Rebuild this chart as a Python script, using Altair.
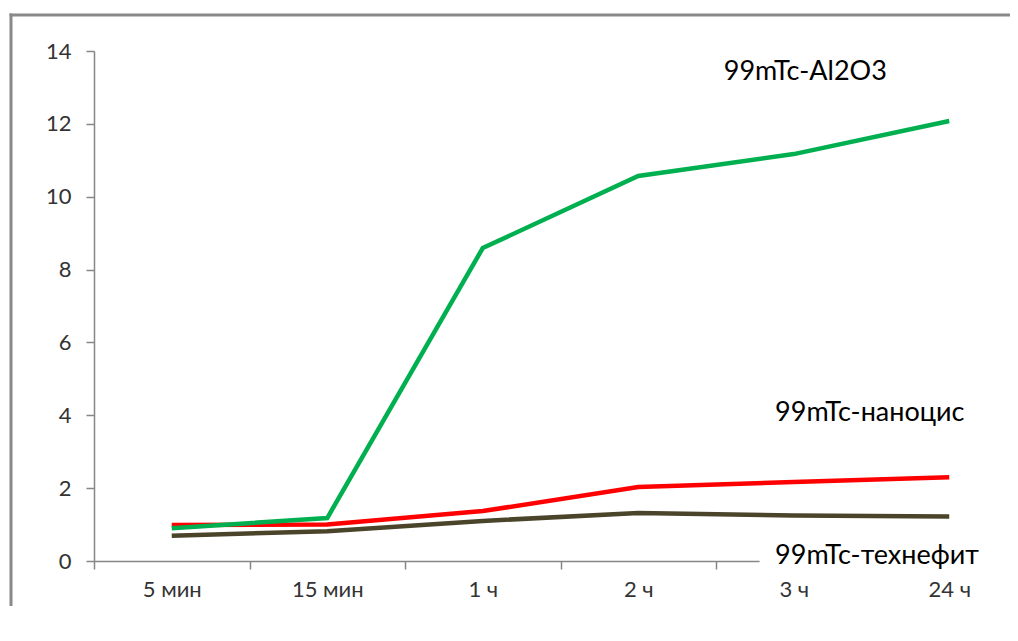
import json
import altair as alt
import pandas as pd

categories = ["5 мин", "15 мин", "1 ч", "2 ч", "3 ч", "24 ч"]
series_names = ["99mTc-технефит", "99mTc-наноцис", "99mTc-Al2O3"]
tehnefit = [0.69, 0.82, 1.10, 1.32, 1.25, 1.22]
nanocis = [0.99, 1.00, 1.37, 2.03, 2.17, 2.30]
al2o3 = [0.90, 1.18, 8.59, 10.57, 11.17, 12.08]
colors = ["#4A452A", "#FF0000", "#00B050"]
y_ticks = [0, 2, 4, 6, 8, 10, 12, 14]

rows = []
for name, vals in zip(series_names, [tehnefit, nanocis, al2o3]):
    for i, v in enumerate(vals):
        rows.append({"series": name, "idx": i, "value": v, "order": series_names.index(name)})
df = pd.DataFrame(rows)

ann_text = ["99mTc-Al2O3", "99mTc-наноцис", "99mTc-технефит"]
ann_x = [3.55, 3.88, 3.88]
ann_y = [13.42, 4.06, 0.14]
ann = pd.DataFrame({"text": ann_text, "x": ann_x, "y": ann_y})

n = len(categories)
W, H = 916, 510
xscale = alt.Scale(domain=[-0.5, n - 0.5], range=[0, 933], nice=False, zero=False)
yscale = alt.Scale(domain=[0, 14], nice=False)

label_expr = "(" + json.dumps(categories, ensure_ascii=False) + ")[datum.value + 0.5] || ''"

x_axis = alt.Axis(
    values=[i - 0.5 for i in range(n + 1)],
    labelExpr=label_expr,
    labelOffset=933 / n / 2,
    labelFlush=False,
    labelFont="Lato", labelFontSize=22, labelColor="#333333",
    labelPadding=10,
    tickSize=8, tickColor="#868686", domainColor="#868686",
    domainWidth=1.5, tickWidth=1.5,
    grid=False, title=None, labelOverlap=False,
)
y_axis = alt.Axis(
    values=y_ticks, labelFont="Lato", labelFontSize=22, labelColor="#333333",
    labelPadding=15, tickSize=8, tickColor="#868686", domainColor="#868686",
    domainWidth=1.5, tickWidth=1.5, grid=False, title=None,
)

frame_src = pd.DataFrame({"a": [0]})
frame_top = alt.Chart(frame_src).mark_rect(fill="#898989", strokeWidth=0).encode(
    x=alt.value(-84.5), x2=alt.value(924), y=alt.value(-37.5), y2=alt.value(-34.5)
)
frame_left = alt.Chart(frame_src).mark_rect(fill="#898989", strokeWidth=0).encode(
    x=alt.value(-84.5), x2=alt.value(-81.5), y=alt.value(-37.5), y2=alt.value(555)
)

lines = alt.Chart(df).mark_line(strokeWidth=4.5).encode(
    x=alt.X("idx:Q", scale=xscale, axis=x_axis),
    y=alt.Y("value:Q", scale=yscale, axis=y_axis),
    color=alt.Color("series:N", scale=alt.Scale(domain=series_names, range=colors), legend=None),
    order="order:Q",
)

box = alt.Chart(pd.DataFrame({"x": [3.78], "x2": [5.6], "y": [0.55], "y2": [-0.45]})).mark_rect(
    fill="white"
).encode(x=alt.X("x:Q", scale=xscale), x2="x2:Q", y=alt.Y("y:Q", scale=yscale), y2="y2:Q")

texts = alt.Chart(ann).mark_text(
    align="left", baseline="middle", font="Lato", fontSize=27, color="#000000"
).encode(x=alt.X("x:Q", scale=xscale), y=alt.Y("y:Q", scale=yscale), text="text:N")

chart = alt.layer(frame_top, frame_left, lines, box, texts).properties(
    width=W, height=H,
    autosize=alt.AutoSizeParams(type="none"),
    padding={"left": 86, "top": 43, "right": 0, "bottom": 62},
    background="white",
).configure_view(stroke=None)

chart.save("out.html", embed_options={"renderer": "svg", "actions": False})
